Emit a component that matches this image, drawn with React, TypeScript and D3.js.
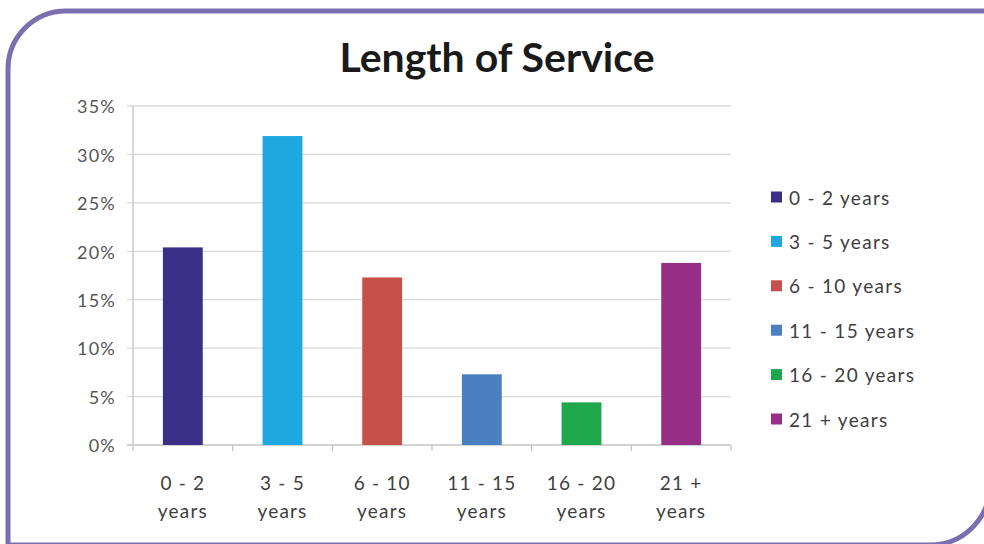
import * as d3 from "d3";

const categories = ["0 - 2 years", "3 - 5 years", "6 - 10 years", "11 - 15 years", "16 - 20 years", "21 + years"];
const axisLines = [["0 - 2", "years"], ["3 - 5", "years"], ["6 - 10", "years"], ["11 - 15", "years"], ["16 - 20", "years"], ["21 +", "years"]];
const shares = [0.204, 0.319, 0.173, 0.073, 0.044, 0.188];
const colors = ["#3b2f88", "#1fa8e0", "#c8504a", "#4a80c2", "#1ea74b", "#972f88"];
const yTicks = [0, 0.05, 0.1, 0.15, 0.2, 0.25, 0.3, 0.35];

const W = 984;
const H = 544;
const font = "Lato, 'Open Sans', sans-serif";

export default function App() {
  const plot = { left: 133, right: 731, top: 106, bottom: 445 };

  const x = d3
    .scaleBand<string>()
    .domain(categories)
    .range([plot.left, plot.right])
    .paddingInner(0.6)
    .paddingOuter(0.3);

  const y = d3.scaleLinear().domain([0, 0.35]).range([plot.bottom, plot.top]);
  const pct = d3.format(".0%");

  // category boundaries for the little ticks under the axis
  const step = x.step();
  const bounds = d3.range(categories.length + 1).map((i) => plot.left + i * step);

  const legendY = d3
    .scalePoint<string>()
    .domain(categories)
    .range([197, 419]);

  return (
    <svg
      width={W}
      height={H}
      style={{ position: "absolute", left: 0, top: 0, background: "#fff" }}
    >
      {/* frame with two rounded corners */}
      <path
        d="M 8 545 L 8 69 A 58 58 0 0 1 66 11 L 990 11 L 990 485 A 60 60 0 0 1 930 545 Z"
        fill="#fff"
        stroke="#7b6fb0"
        strokeWidth={5}
      />

      <text
        x={497}
        y={72}
        textAnchor="middle"
        fontFamily={font}
        fontWeight={700}
        fontSize={41}
        fill="#1a1a1a"
      >
        Length of Service
      </text>

      {/* grid + y axis */}
      {yTicks.map((t) => (
        <g key={t}>
          <line
            x1={plot.left - 6}
            x2={plot.right}
            y1={y(t)}
            y2={y(t)}
            stroke={t === 0 ? "#c4c4c4" : "#dadada"}
            strokeWidth={1.3}
          />
          <text
            x={116}
            y={y(t) + 1}
            dy="0.35em"
            textAnchor="end"
            fontFamily={font}
            fontSize={18}
            letterSpacing={1.2}
            fill="#555"
          >
            {pct(t)}
          </text>
        </g>
      ))}
      <line x1={plot.left} x2={plot.left} y1={plot.top} y2={plot.bottom} stroke="#c4c4c4" strokeWidth={1.3} />
      {bounds.map((b, i) => (
        <line key={i} x1={b} x2={b} y1={plot.bottom} y2={plot.bottom + 6} stroke="#c4c4c4" strokeWidth={1.3} />
      ))}

      {/* bars */}
      {categories.map((c, i) => (
        <rect
          key={c}
          x={x(c)}
          y={y(shares[i])}
          width={x.bandwidth()}
          height={y(0) - y(shares[i])}
          fill={colors[i]}
        />
      ))}

      {/* x labels */}
      {categories.map((c, i) => {
        const cx = (x(c) || 0) + x.bandwidth() / 2;
        return (
          <text
            key={c}
            x={cx}
            y={490}
            textAnchor="middle"
            fontFamily={font}
            fontSize={19}
            letterSpacing={1.2}
            fill="#404040"
          >
            <tspan x={cx}>{axisLines[i][0]}</tspan>
            <tspan x={cx} dy={28}>
              {axisLines[i][1]}
            </tspan>
          </text>
        );
      })}

      {/* legend */}
      {categories.map((c, i) => (
        <g key={c} transform={`translate(771,${legendY(c)})`}>
          <rect x={0} y={-5.5} width={11} height={11} fill={colors[i]} />
          <text
            x={18}
            y={1}
            dy="0.35em"
            fontFamily={font}
            fontSize={19}
            letterSpacing={1.3}
            fill="#404040"
          >
            {c}
          </text>
        </g>
      ))}
    </svg>
  );
}
